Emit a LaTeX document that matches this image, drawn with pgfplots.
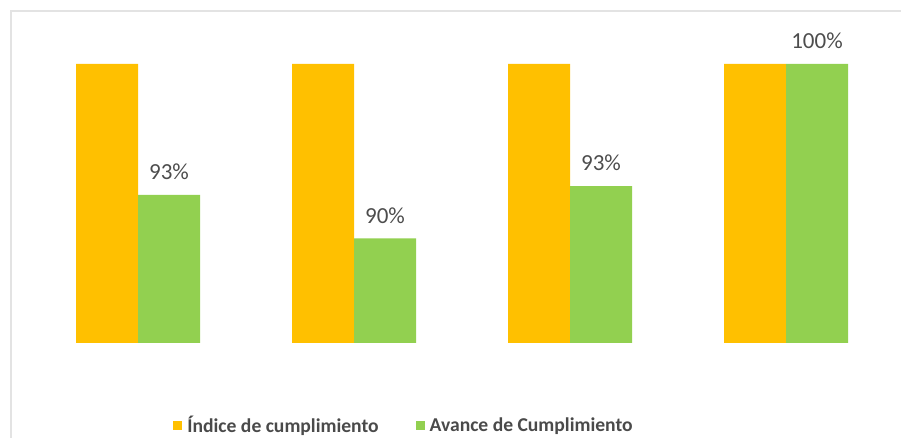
\documentclass[border=0pt]{standalone}
\usepackage{pgfplots}
\pgfplotsset{compat=1.18}
\usepackage{fontspec}
\setmainfont{Carlito}
\definecolor{cOrange}{HTML}{FFC000}
\definecolor{cGreen}{HTML}{92D050}
\definecolor{cText}{HTML}{4D4D4D}
\definecolor{cLeg}{HTML}{4A4A4A}
\definecolor{cBorder}{HTML}{E3E3E3}
\begin{document}
\begin{tikzpicture}
\path[use as bounding box] (0pt,0pt) rectangle (901pt,438pt);
\draw[cBorder, line width=1.5pt] (11pt,-5pt) -- (11pt,427pt) -- (910pt,427pt);
\begin{axis}[
  at={(30pt,95pt)}, anchor=south west,
  scale only axis,
  width=864pt, height=279pt,
  xmin=-0.5, xmax=3.5,
  ymin=84, ymax=100,
  axis lines=none,
  xtick=\empty, ytick=\empty,
  clip=false,
  ybar, bar width=62pt,
  legend columns=2,
  legend style={draw=none, fill=none,
    at={(axis description cs:0.4329,-0.294)}, anchor=center,
    font=\bfseries\fontsize{19.6}{21}\selectfont, text=cLeg,
    /tikz/every even column/.append style={column sep=35pt},
    /tikz/every odd column/.append style={column sep=3pt}},
  legend image code/.code={\fill[#1] (0pt,-4.5pt) rectangle (9pt,4.5pt);},
]
\addplot[fill=cOrange, draw=none, bar shift=-31pt] coordinates {(0,100) (1,100) (2,100) (3,100)};
\addlegendentry{Índice de cumplimiento}
\addplot[fill=cGreen, draw=none, bar shift=31pt,
  point meta=explicit symbolic,
  nodes near coords,
  every node near coord/.append style={anchor=center, yshift=23pt, text=cText, font=\fontsize{23}{25}\selectfont}]
  coordinates {(0,92.5) [93\%] (1,90) [90\%] (2,93) [93\%] (3,100) [100\%]};
\addlegendentry{Avance de Cumplimiento}
\end{axis}
\end{tikzpicture}
\end{document}
